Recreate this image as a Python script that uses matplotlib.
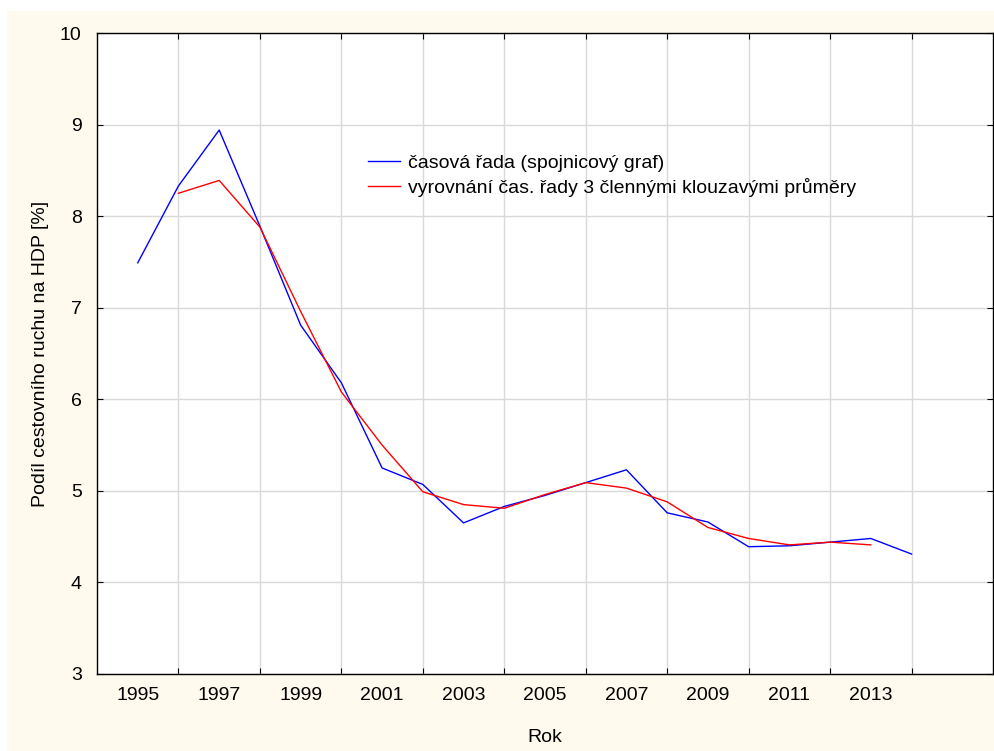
import matplotlib
matplotlib.use("Agg")
import matplotlib.pyplot as plt
from matplotlib.patches import Rectangle
from matplotlib.ticker import FixedLocator, NullFormatter

plt.rcParams['font.family'] = ['Liberation Sans', 'DejaVu Sans']

years = list(range(1995, 2015))
share = [7.49, 8.33, 8.94, 7.89, 6.81, 6.18, 5.25, 5.07, 4.65, 4.83,
         4.95, 5.09, 5.23, 4.76, 4.66, 4.39, 4.40, 4.44, 4.48, 4.31]

ma_years = list(range(1996, 2014))
ma_share = [8.25, 8.39, 7.88, 6.96, 6.08, 5.50, 4.99, 4.85, 4.81,
            4.96, 5.09, 5.03, 4.88, 4.60, 4.48, 4.41, 4.44, 4.41]

label_years = list(range(1995, 2015, 2))
grid_years = list(range(1996, 2015, 2))

fs = 14

fig = plt.figure(figsize=(9.95, 7.51), dpi=100, facecolor='white')
# cream panel behind the plot (Statistica style)
fig.patches.append(Rectangle((7 / 995, 0), 1, 1 - 11 / 751, transform=fig.transFigure,
                             facecolor='#fff9ee', edgecolor='none', zorder=-10))

ax = fig.add_axes([97 / 995, 1 - 674 / 751, (993 - 97) / 995, (674 - 33) / 751])
ax.set_facecolor('white')

ax.plot(years, share, color='#0000ff', lw=1.0, label='časová řada (spojnicový graf)')
ax.plot(ma_years, ma_share, color='#ff0000', lw=1.0,
        label='vyrovnání čas. řady 3 člennými klouzavými průměry')

ax.set_xlim(1994, 2016)
ax.set_ylim(3, 10)

# gridlines and tick marks on even years, labels on odd years
ax.xaxis.set_major_locator(FixedLocator(grid_years))
ax.xaxis.set_major_formatter(NullFormatter())
ax.xaxis.set_minor_locator(FixedLocator(label_years))
ax.set_xticklabels([str(y) for y in label_years], minor=True)
ax.tick_params(axis='x', which='minor', length=0, pad=9, labelsize=fs)
ax.tick_params(axis='x', which='major', direction='in', length=4, top=True)
ax.tick_params(axis='y', direction='in', length=4, right=True, labelsize=fs, pad=11)
ax.set_yticks(range(3, 11))

ax.grid(True, which='major', color='#d9d9d9', lw=1.0)
ax.set_axisbelow(True)
for s in ax.spines.values():
    s.set_color('black')
    s.set_linewidth(1.0)

ax.set_xlabel('Rok', fontsize=fs, labelpad=18)
ax.set_ylabel('Podíl cestovního ruchu na HDP [%]', fontsize=fs, labelpad=8)

ax.legend(loc='upper left', bbox_to_anchor=(0.3025, 0.811), frameon=False, fontsize=fs,
          borderpad=0, borderaxespad=0, handlelength=1.65, handletextpad=0.42,
          labelspacing=0.3)

fig.savefig('out.png', dpi=100, facecolor=fig.get_facecolor())
